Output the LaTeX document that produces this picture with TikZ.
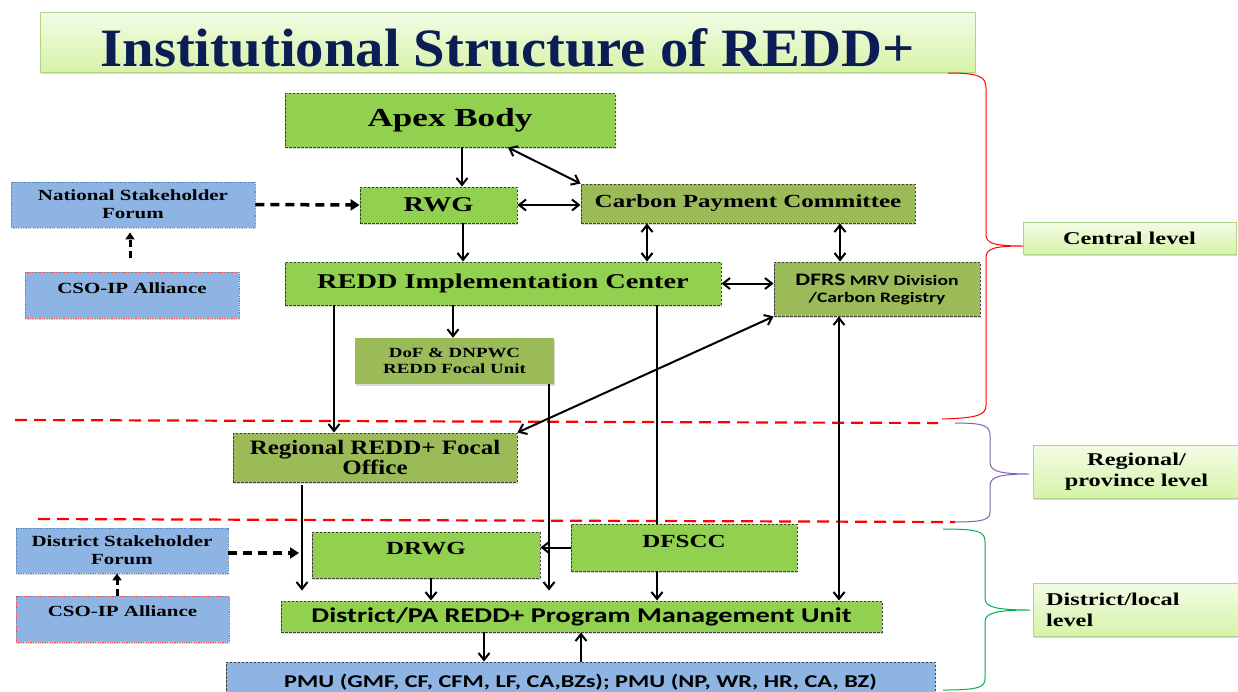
\documentclass[tikz,border=0pt]{standalone}
\usepackage{fontspec}
\usetikzlibrary{arrows.meta,shadows}
\newfontfamily\tnr{Liberation Serif}[FakeStretch=1.35]
\newfontfamily\tnrB{Liberation Serif}[FakeStretch=1.22]
\newfontfamily\calib{Carlito}[FakeStretch=1.35]
\newfontfamily\titlefont{Liberation Serif}[FakeStretch=1.05]
\newcommand\fsz[2]{\fontsize{#1}{#2}\selectfont}
\definecolor{ggreen}{HTML}{92D050}
\definecolor{olive}{HTML}{9BBB59}
\definecolor{lblue}{HTML}{8EB4E3}
\definecolor{bordergray}{HTML}{3F3F3F}
\definecolor{dotblue}{HTML}{4F81BD}
\definecolor{dotred}{HTML}{E05050}
\definecolor{lvltop}{HTML}{F3FCE6}
\definecolor{lvlbot}{HTML}{D6F3A8}
\definecolor{lvlborder}{HTML}{AFD58A}
\definecolor{navy}{HTML}{0C1C55}
\definecolor{bracepurple}{HTML}{8062B0}
\definecolor{bracegreen}{HTML}{00B050}
\begin{document}
\begin{tikzpicture}[x=1pt,y=-1pt,
  shad/.style={drop shadow={shadow xshift=1.2pt,shadow yshift=-1.5pt,opacity=.3}},
  box/.style={inner sep=0pt, align=center, font=\tnr\bfseries, shad},
  dbord/.style={draw=bordergray, line width=0.9pt, dash pattern=on 2.5pt off 1.5pt},
  gbox/.style={box, dbord, fill=ggreen},
  obox/.style={box, dbord, fill=olive},
  bbox/.style={box, fill=lblue, draw=dotblue, line width=0.8pt, dash pattern=on 1.2pt off 1.2pt},
  cbox/.style={box, fill=lblue, draw=dotred, line width=0.8pt, dash pattern=on 1.2pt off 1.2pt},
  lvl/.style={inner sep=0pt, align=center, font=\tnr\bfseries\fsz{18}{21}, top color=lvltop, bottom color=lvlbot, draw=lvlborder, line width=0.9pt, shad},
  arr/.style={line width=2pt, -{Straight Barb[length=7pt,width=11pt]}},
  darr/.style={line width=2pt, {Straight Barb[length=7pt,width=11pt]}-{Straight Barb[length=7pt,width=11pt]}},
  plain/.style={line width=2pt},
  dasharr/.style={line width=3.5pt, dash pattern=on 9pt off 6pt, -{Triangle[length=9pt,width=11pt]}},
  dasharr2/.style={line width=3pt, dash pattern=on 7pt off 4pt, -{Triangle[length=7pt,width=9pt]}},
  reddash/.style={draw=red, line width=2.2pt, dash pattern=on 12pt off 7pt}
]
\useasboundingbox (0,0) rectangle (1238,691);

% title
\node[inner sep=0pt, minimum width=935pt, minimum height=60pt, top color=lvltop, bottom color=lvlbot, draw=lvlborder, line width=1pt, shad] (title) at (507.5,42)
  {\raisebox{-6pt}[\height][\depth]{\titlefont\bfseries\color{navy}\fsz{54}{56}Institutional Structure of REDD+}};

% level separators
\draw[reddash] (15,420) -- (938,423);
\draw[reddash] (38,519) -- (955,522);

% braces
\draw[red, line width=1pt] (948,73) .. controls (980,73) and (986,77) .. (986,88) -- (986,234) .. controls (986,243) and (992,246) .. (1023,246) .. controls (992,246) and (986,249) .. (986,258) -- (986,405) .. controls (986,415) and (978,418) .. (942,419);
\draw[bracepurple, line width=1pt] (955,423) .. controls (985,423) and (990,426) .. (990,436) -- (990,462) .. controls (990,470) and (996,474) .. (1029,474) .. controls (996,474) and (990,478) .. (990,486) -- (990,512) .. controls (990,519) and (985,522) .. (955,522);
\draw[bracegreen, line width=1pt] (943,529) .. controls (980,529) and (985,532) .. (985,542) -- (985,598) .. controls (985,606) and (992,610) .. (1030,610) .. controls (992,610) and (985,614) .. (985,622) -- (985,678) .. controls (985,687) and (980,690) .. (943,690);

% boxes
\node[gbox, minimum width=330pt, minimum height=54pt, font=\tnr\bfseries\fsz{26}{28}] (apex) at (450,120) {Apex Body};
\node[gbox, minimum width=157pt, minimum height=36pt, font=\tnr\bfseries\fsz{21}{23}] (rwg) at (438.5,205) {RWG};
\node[obox, minimum width=334pt, minimum height=39pt, font=\tnr\bfseries\fsz{18.5}{20}] (cpc) at (748,203.5) {Carbon Payment Committee};
\node[bbox, minimum width=244pt, minimum height=45pt, font=\tnr\bfseries\fsz{15.5}{18}] (nsf) at (133,204.5) {National Stakeholder\\Forum};
\node[cbox, minimum width=214pt, minimum height=46pt, font=\tnr\bfseries\fsz{15.5}{18}] (cso1) at (132,295) {\raisebox{7pt}[\height][\depth]{CSO-IP Alliance}};
\node[gbox, minimum width=436pt, minimum height=43pt, font=\tnr\bfseries\fsz{21}{23}] (reddic) at (503,283.5) {REDD Implementation Center};
\node[obox, minimum width=206pt, minimum height=54pt, font=\calib\bfseries\fsz{14.5}{17}] (dfrs) at (877,289) {{\fsz{17.5}{17}DFRS} MRV Division\\/Carbon Registry};
\node[box, fill=olive, minimum width=199pt, minimum height=46pt, font=\tnr\bfseries\fsz{14}{16}] (dof) at (454.5,361) {DoF \& DNPWC\\REDD Focal Unit};
\node[obox, minimum width=284pt, minimum height=49pt, font=\tnrB\bfseries\fsz{20.5}{20}] (regional) at (375,457.5) {\raisebox{-3pt}[\height][\depth]{\begin{tabular}{@{}c@{}}Regional REDD+ Focal\\[-1pt]Office\end{tabular}}};
\node[bbox, minimum width=212pt, minimum height=45pt, font=\tnr\bfseries\fsz{15.5}{18}] (dsf) at (122,550.5) {District Stakeholder\\Forum};
\node[cbox, minimum width=213pt, minimum height=46pt, font=\tnr\bfseries\fsz{15.5}{18}] (cso2) at (122.5,619) {\raisebox{8pt}[\height][\depth]{CSO-IP Alliance}};
\node[gbox, minimum width=228pt, minimum height=46pt, font=\tnr\bfseries\fsz{18.5}{20}] (drwg) at (426,555) {\raisebox{6pt}[\height][\depth]{DRWG}};
\node[gbox, minimum width=226pt, minimum height=47pt, font=\tnr\bfseries\fsz{18.5}{20}] (dfscc) at (684,547.5) {\raisebox{6pt}[\height][\depth]{DFSCC}};
\node[gbox, minimum width=601pt, minimum height=31pt, font=\calib\bfseries\fsz{21}{23}] (dpa) at (581.5,616.5) {District/PA REDD+ Program Management Unit};
\node[box, dbord, fill=lblue, minimum width=709pt, minimum height=40pt, font=\calib\bfseries\fsz{18}{20}] (pmu) at (580.5,682) {PMU (GMF, CF, CFM, LF, CA,BZs); PMU (NP, WR, HR, CA, BZ)};

% level labels
\node[lvl, minimum width=213pt, minimum height=32pt] (central) at (1129.5,238) {Central level};
\node[lvl, minimum width=207pt, minimum height=53pt] (reglvl) at (1136.5,471.5) {Regional/\\province level};
\node[lvl, minimum width=207pt, minimum height=53pt, align=left, text width=181pt, inner xsep=13pt] (distlvl) at (1136.5,609.5) {District/local\\level};

% helper columns
\foreach \c in {117,130,302,334,431,453,462,463,484,549,581,647,657,839,840}
  \coordinate (c\c) at (\c,0);
\coordinate (dsftip) at (299,553);

% connectors
\draw[arr] (c462 |- apex.south) -- (c462 |- rwg.north);
\draw[darr] ([xshift=58pt]apex.south) -- (cpc.north west);
\draw[dasharr] (nsf.east) -- (rwg.west);
\draw[dasharr2, shorten <=14pt, shorten >=5pt] (c130 |- cso1.north) -- (c130 |- nsf.south);
\draw[darr] (rwg.east) -- (rwg.east -| cpc.west);
\draw[arr] (c463 |- rwg.south) -- (c463 |- reddic.north);
\draw[darr] (c647 |- cpc.south) -- (c647 |- reddic.north);
\draw[darr] (c840 |- cpc.south) -- (c840 |- dfrs.north);
\draw[darr] (reddic.east) -- (reddic.east -| dfrs.west);
\draw[arr] (c453 |- reddic.south) -- (c453 |- dof.north);
\draw[arr] (c334 |- reddic.south) -- (c334 |- regional.north);
\draw[darr] (dfrs.south west) -- (regional.north east);
\draw[arr, shorten >=10pt] (c549 |- dof.south) -- (c549 |- dpa.north);
\draw[plain] (c657 |- reddic.south) -- (c657 |- dfscc.north);
\draw[darr] (c839 |- dfrs.south) -- (c839 |- dpa.north);
\draw[arr, shorten <=3pt, shorten >=10pt] (c302 |- regional.south) -- (c302 |- dpa.north);
\draw[dasharr] (dsf.east |- dsftip) -- (dsftip);
\draw[dasharr2] (c117 |- cso2.north) -- (c117 |- dsf.south);
\draw[arr] (dfscc.west) -- (dfscc.west -| drwg.east);
\draw[arr] (c431 |- drwg.south) -- (c431 |- dpa.north);
\draw[arr] (c657 |- dfscc.south) -- (c657 |- dpa.north);
\draw[arr] (c484 |- dpa.south) -- (c484 |- pmu.north);
\draw[arr] (c581 |- pmu.north) -- (c581 |- dpa.south);
\end{tikzpicture}
\end{document}
